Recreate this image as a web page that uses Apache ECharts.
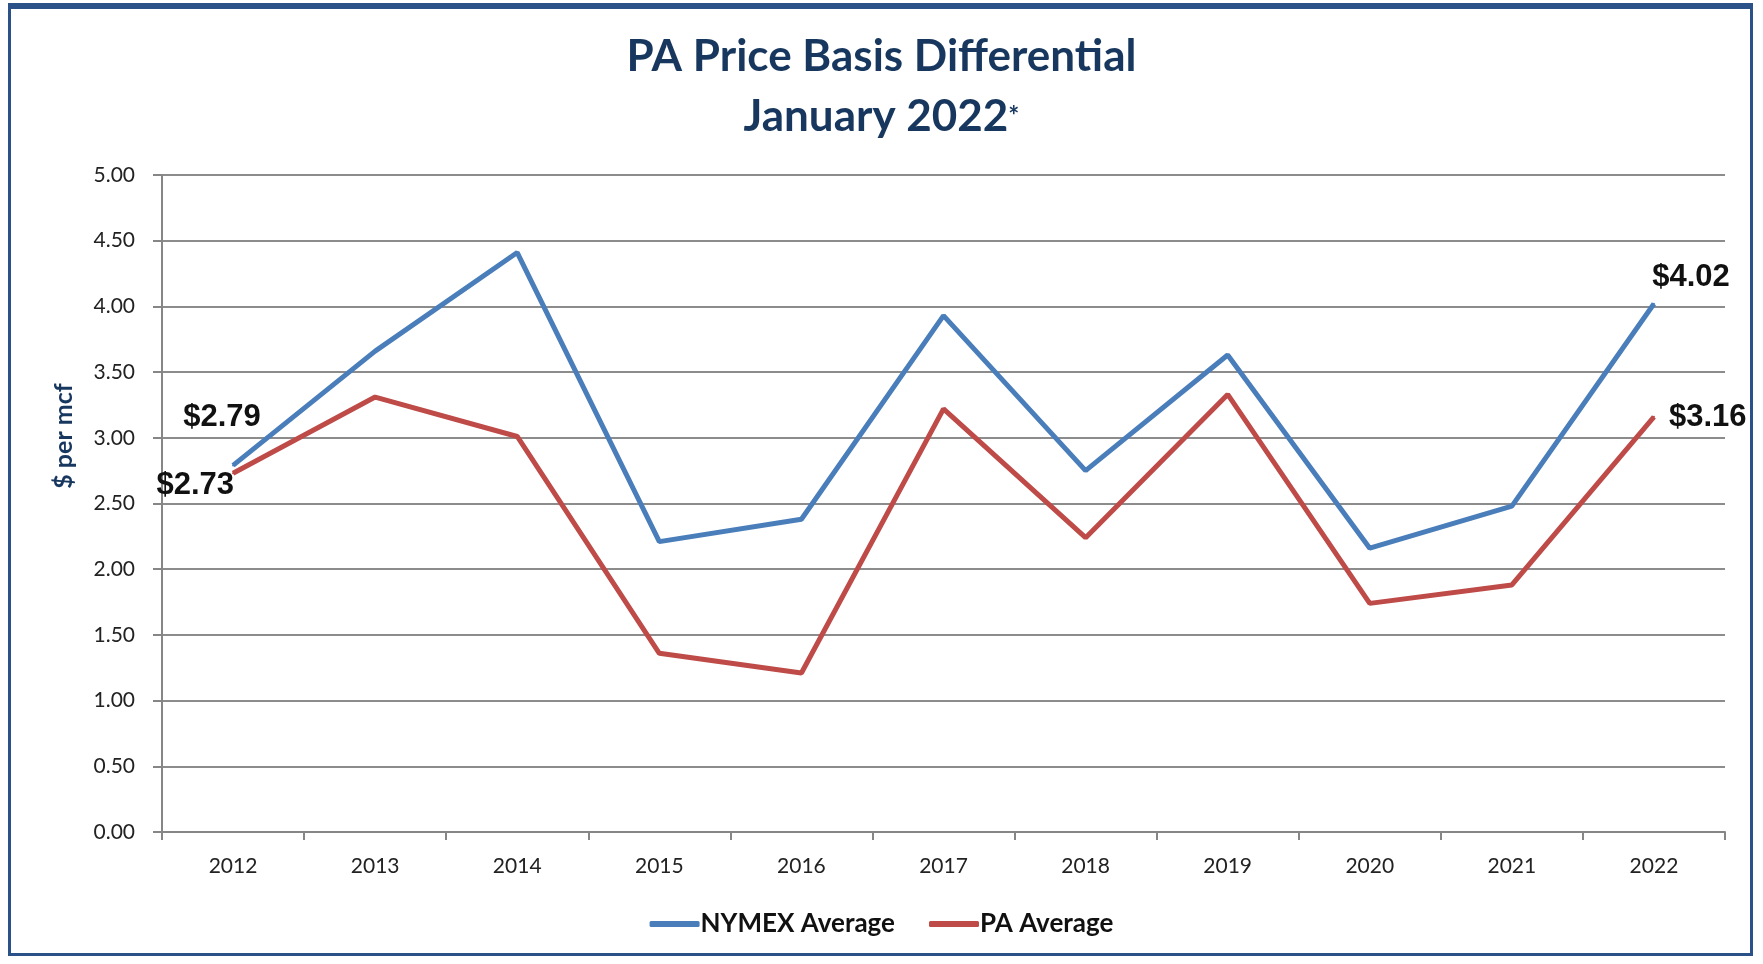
<!DOCTYPE html>
<html>
<head>
<meta charset="utf-8">
<script src="https://cdn.jsdelivr.net/npm/echarts@6/dist/echarts.min.js"></script>
<style>
  html, body { margin: 0; padding: 0; background: #fff; }
  #frame {
    position: absolute; left: 8px; top: 3px; width: 1745px; height: 953px;
    border: 3px solid #2b5189; border-top-width: 6px; box-sizing: border-box;
  }
  #main { position: absolute; left: 0; top: 0; width: 1763px; height: 964px; }
</style>
</head>
<body>
<div id="frame"></div>
<div id="main"></div>
<script>
var years = ['2012', '2013', '2014', '2015', '2016', '2017', '2018', '2019', '2020', '2021', '2022'];
var nymexAvg = [2.79, 3.66, 4.41, 2.21, 2.38, 3.93, 2.75, 3.63, 2.16, 2.48, 4.02];
var paAvg = [2.73, 3.31, 3.01, 1.36, 1.21, 3.22, 2.24, 3.33, 1.74, 1.88, 3.16];
var yTicks = ['0.00', '0.50', '1.00', '1.50', '2.00', '2.50', '3.00', '3.50', '4.00', '4.50', '5.00'];

var myChart = echarts.init(document.getElementById('main'));

// only first and last points get a $ label
function withLabels(values, firstLabel, lastLabel) {
    return values.map(function (v, i) {
        if (i === 0) return { value: v, label: Object.assign({ show: true }, firstLabel) };
        if (i === values.length - 1) return { value: v, label: Object.assign({ show: true }, lastLabel) };
        return v;
    });
}

var labelStyle = {
    formatter: function (p) { return '$' + Number(p.value).toFixed(2); },
    fontFamily: 'Liberation Sans',
    fontWeight: 'bold',
    fontSize: 31,
    color: '#111'
};

option = {
    title: {
        left: 'center',
        top: 22,
        text: '{t|PA Price Basis Differential}\n{t|January 2022}{s|*}',
        textStyle: {
            rich: {
                t: { fontFamily: 'Lato', fontWeight: 'bold', fontSize: 44, color: '#17375e', lineHeight: 60 },
                s: { fontFamily: 'Lato', fontWeight: 'bold', fontSize: 26, color: '#17375e', lineHeight: 60, verticalAlign: 'middle' }
            }
        }
    },
    legend: {
        bottom: 22,
        left: 'center',
        icon: 'roundRect',
        itemWidth: 50,
        itemHeight: 6,
        itemGap: 34,
        textStyle: { fontFamily: 'Lato', fontWeight: 'bold', fontSize: 26, color: '#111', padding: [0, 0, 0, -4] },
        data: ['NYMEX Average', 'PA Average']
    },
    grid: { left: 162, right: 38, top: 175, bottom: 132 },
    xAxis: {
        type: 'category',
        data: years,
        axisLine: { lineStyle: { color: '#868686', width: 2 } },
        axisTick: { show: true, length: 8, lineStyle: { color: '#868686', width: 2 } },
        axisLabel: { margin: 24, fontFamily: 'Lato', fontSize: 21, color: '#222' }
    },
    yAxis: {
        type: 'value',
        min: 0,
        max: 5,
        interval: 0.5,
        axisLine: { show: true, lineStyle: { color: '#868686', width: 2 } },
        axisTick: { show: true, length: 9, lineStyle: { color: '#868686', width: 2 } },
        splitLine: { lineStyle: { color: '#8c8c8c', width: 2 } },
        axisLabel: {
            margin: 27, fontFamily: 'Lato', fontSize: 21, color: '#222',
            formatter: function (v) { return yTicks[Math.round(v * 2)]; }
        }
    },
    graphic: [{
        type: 'text',
        x: 64,
        y: 436,
        rotation: Math.PI / 2,
        style: {
            text: '$ per mcf',
            fontFamily: 'Lato', fontWeight: 'bold', fontSize: 25, fill: '#17375e',
            align: 'center', verticalAlign: 'middle'
        }
    }],
    series: [{
        name: 'NYMEX Average',
        type: 'line',
        symbol: 'circle',
        symbolSize: 2,
        color: '#4a7ebb',
        itemStyle: { color: '#4a7ebb' },
        lineStyle: { width: 5, color: '#4a7ebb' },
        label: labelStyle,
        data: withLabels(nymexAvg,
            { position: 'top', distance: 5, offset: [-11, -26] },
            { position: 'top', distance: 5, offset: [37, -5] })
    }, {
        name: 'PA Average',
        type: 'line',
        symbol: 'circle',
        symbolSize: 2,
        color: '#be4b48',
        itemStyle: { color: '#be4b48' },
        lineStyle: { width: 5, color: '#be4b48' },
        label: labelStyle,
        data: withLabels(paAvg,
            { position: 'left', distance: -2, offset: [0, 12] },
            { position: 'right', distance: 14, offset: [0, 1] })
    }]
};
myChart.setOption(option);
</script>
</body>
</html>
